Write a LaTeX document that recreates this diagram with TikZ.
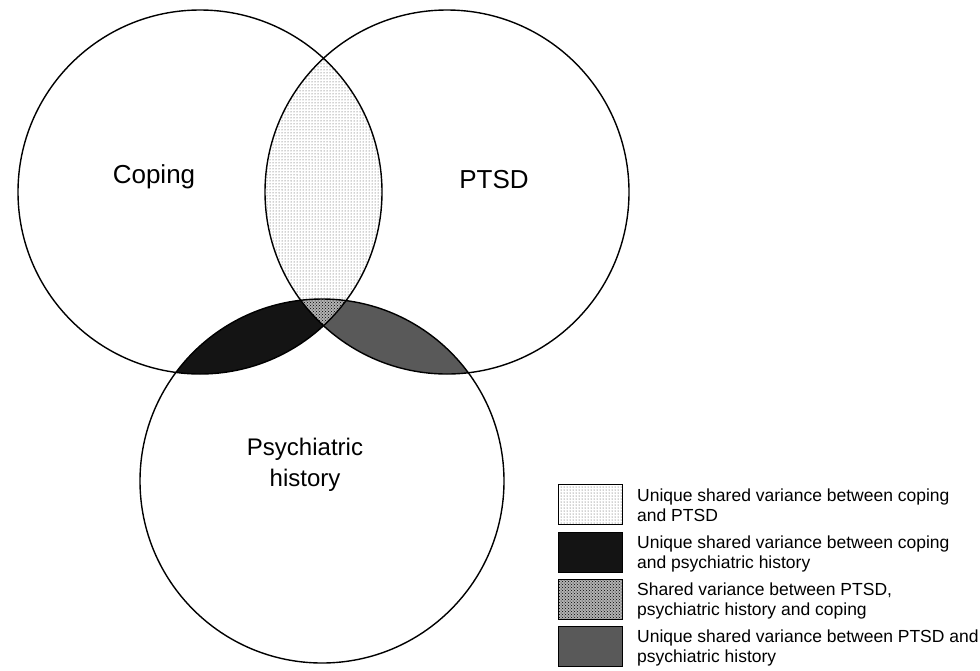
\documentclass[tikz,border=0pt]{standalone}
\usepackage{fontspec}
\setmainfont{Liberation Sans}
\usetikzlibrary{patterns}
\tikzset{
  outline/.style={draw=black, line width=1.4pt},
  biglabel/.style={font=\fontsize{26}{30}\selectfont, inner sep=0pt},
  midlabel/.style={font=\fontsize{24}{31}\selectfont, inner sep=0pt, align=center},
  legtext/.style={font=\fontsize{17.5}{20}\selectfont, inner sep=0pt, align=left, anchor=base west},
  legbox/.style={draw=black, line width=0.8pt, minimum width=64pt, minimum height=40pt, inner sep=0pt, anchor=north west},
  dotfill/.style={pattern=dots, pattern color=black!75},
  tripfill/.style={pattern=crosshatch dots, pattern color=black},
  tripbg/.style={fill=black!30},
  blackfill/.style={fill=black!92},
  greyfill/.style={fill=black!65}
}
\begin{document}
\begin{tikzpicture}[x=1pt,y=-1pt]
\useasboundingbox[fill=white] (0,0) rectangle (980,670);
\coordinate (cA) at (200,192);
\coordinate (cB) at (447,192);
\coordinate (cC) at (322,481);
\def\rr{182pt}
% coping & PTSD lens
\begin{scope}
  \clip (cA) circle[radius=\rr];
  \clip (cB) circle[radius=\rr];
  \path[dotfill] (0,0) rectangle (980,670);
\end{scope}
% coping & psych
\begin{scope}
  \clip (cA) circle[radius=\rr];
  \clip (cC) circle[radius=\rr];
  \path[blackfill] (0,0) rectangle (980,670);
\end{scope}
% PTSD & psych
\begin{scope}
  \clip (cB) circle[radius=\rr];
  \clip (cC) circle[radius=\rr];
  \path[greyfill] (0,0) rectangle (980,670);
\end{scope}
% triple
\begin{scope}
  \clip (cA) circle[radius=\rr];
  \clip (cB) circle[radius=\rr];
  \clip (cC) circle[radius=\rr];
  \path[tripbg] (0,0) rectangle (980,670);
  \path[tripfill] (0,0) rectangle (980,670);
\end{scope}
\draw[outline] (cA) circle[radius=\rr];
\draw[outline] (cB) circle[radius=\rr];
\draw[outline] (cC) circle[radius=\rr];
\node[biglabel, anchor=base] (lcoping) at (154,183) {Coping};
\node[biglabel, anchor=base] (lptsd) at (494,188) {PTSD};
\node[midlabel] (lpsych) at (305,465) {Psychiatric\\history};
% legend
\node[legbox, dotfill] (b1) at (558,484) {};
\node[legbox, blackfill] (b2) at (558,532) {};
\node[legbox, tripbg] (b3w) at (558,579) {};
\node[legbox, tripfill] (b3) at (558,579) {};
\node[legbox, greyfill] (b4) at (558,626) {};
\node[legtext] (t1) at (637,521) {Unique shared variance between coping\\and PTSD};
\node[legtext] (t2) at (637,568) {Unique shared variance between coping\\and psychiatric history};
\node[legtext] (t3) at (637,615) {Shared variance between PTSD,\\psychiatric history and coping};
\node[legtext] (t4) at (637,662) {Unique shared variance between PTSD and\\psychiatric history};
\end{tikzpicture}
\end{document}
